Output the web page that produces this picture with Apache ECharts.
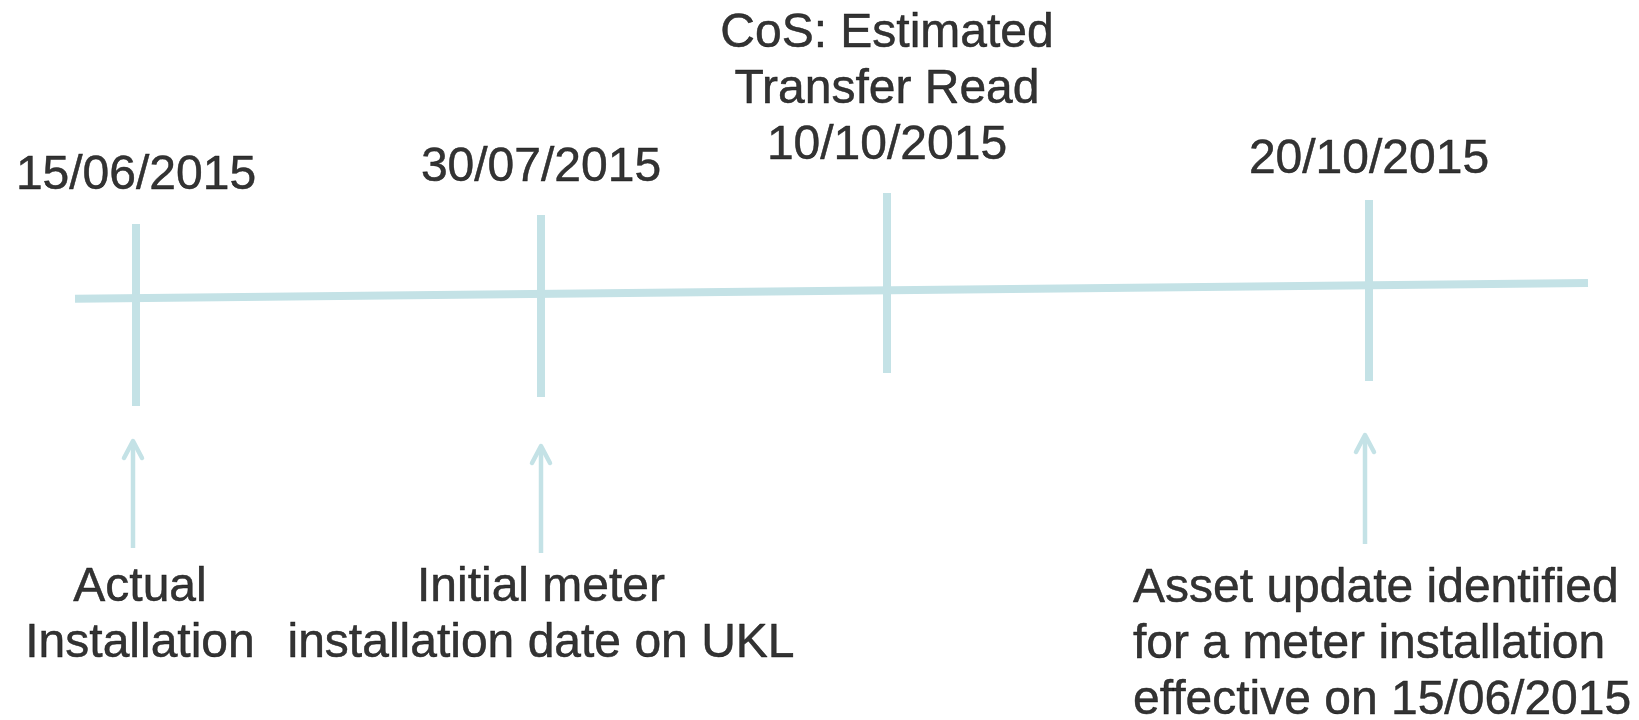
<!DOCTYPE html>
<html>
<head>
<meta charset="utf-8">
<title>Meter installation timeline</title>
<script src="https://cdn.jsdelivr.net/npm/echarts@6/dist/echarts.min.js"></script>
<style>
  html, body { margin: 0; padding: 0; background: #fff; }
  #main { width: 1639px; height: 720px; }
</style>
</head>
<body>
<div id="main"></div>
<script>
// timeline baseline (x, y in diagram units)
var baseline = [[75, 298.7], [1588, 283]]

// event ticks: x, top, bottom
var eventX = [136, 541, 887, 1369]
var tickTop = [224, 215, 193, 200]
var tickBottom = [406, 397, 373, 381]

// labels above the ticks
var eventLabels = ['15/06/2015', '30/07/2015', 'CoS: Estimated\nTransfer Read\n10/10/2015', '20/10/2015']
var eventLabelY = [175.5, 167.5, 90, 159.5]

// arrows: x, tip, tail
var arrowX = [133, 541, 1365]
var arrowTip = [441, 446, 435]
var arrowTail = [548, 553, 544]

// notes under the arrows
var notes = ['Actual\nInstallation', 'Initial meter\ninstallation date on UKL', 'Asset update identified\nfor a meter installation\neffective on 15/06/2015']
var noteX = [140, 541, 1133]
var noteY = [616, 616, 645]
var noteAlign = ['center', 'center', 'left']

var lineColor = '#c4e2e6'
var font = '"Liberation Sans", Arial, sans-serif'

var chart = echarts.init(document.getElementById('main'))

var ticks = eventX.map(function (x, i) { return [x, tickTop[i], tickBottom[i]] })
var arrows = arrowX.map(function (x, i) { return [x, arrowTip[i], arrowTail[i]] })
var topLabels = eventX.map(function (x, i) {
  return { value: [x, eventLabelY[i]], name: eventLabels[i] }
})
var bottomLabels = notes.map(function (t, i) {
  return { value: [noteX[i], noteY[i]], name: t, label: { align: noteAlign[i] } }
})

var textStyle = {
  color: '#000',
  textBorderColor: '#000',
  textBorderWidth: 0.5,
  fontFamily: font,
  fontSize: 48,
  lineHeight: 56
}

var labelStyle = {
  show: true,
  position: 'inside',
  formatter: function (p) {
    return p.name.split('\n').map(function (s) { return '{t|' + s + '}' }).join('\n')
  },
  color: '#000',
  fontFamily: font,
  fontSize: 48,
  lineHeight: 56,
  align: 'center',
  verticalAlign: 'middle',
  rich: { t: textStyle }
}

var option = {
  animation: false,
  backgroundColor: '#fff',
  grid: { left: 0, right: 0, top: 0, bottom: 0 },
  xAxis: { type: 'value', min: 0, max: 1639, show: false },
  yAxis: { type: 'value', min: 0, max: 720, inverse: true, show: false },
  series: [
    {
      type: 'line',
      data: baseline,
      symbol: 'none',
      silent: true,
      lineStyle: { color: lineColor, width: 8, cap: 'butt' }
    },
    {
      type: 'custom',
      data: ticks,
      silent: true,
      renderItem: function (params, api) {
        var a = api.coord([api.value(0), api.value(1)])
        var b = api.coord([api.value(0), api.value(2)])
        return {
          type: 'line',
          shape: { x1: a[0], y1: a[1], x2: b[0], y2: b[1] },
          style: { stroke: lineColor, lineWidth: 8, lineCap: 'butt' }
        }
      }
    },
    {
      type: 'custom',
      data: arrows,
      silent: true,
      renderItem: function (params, api) {
        var tip = api.coord([api.value(0), api.value(1)])
        var tail = api.coord([api.value(0), api.value(2)])
        return {
          type: 'group',
          children: [
            {
              type: 'line',
              shape: { x1: tail[0], y1: tail[1], x2: tip[0], y2: tip[1] + 1 },
              style: { stroke: lineColor, lineWidth: 4.5, lineCap: 'butt' }
            },
            {
              type: 'polyline',
              shape: { points: [[tip[0] - 9, tip[1] + 17], [tip[0], tip[1]], [tip[0] + 9, tip[1] + 17]] },
              style: { stroke: lineColor, fill: null, lineWidth: 4.5, lineCap: 'round', lineJoin: 'round' }
            }
          ]
        }
      }
    },
    {
      type: 'scatter',
      data: topLabels,
      symbolSize: 1,
      silent: true,
      itemStyle: { color: 'transparent' },
      label: labelStyle
    },
    {
      type: 'scatter',
      data: bottomLabels,
      symbolSize: 1,
      silent: true,
      itemStyle: { color: 'transparent' },
      label: labelStyle
    }
  ]
}

chart.setOption(option)
</script>
</body>
</html>
